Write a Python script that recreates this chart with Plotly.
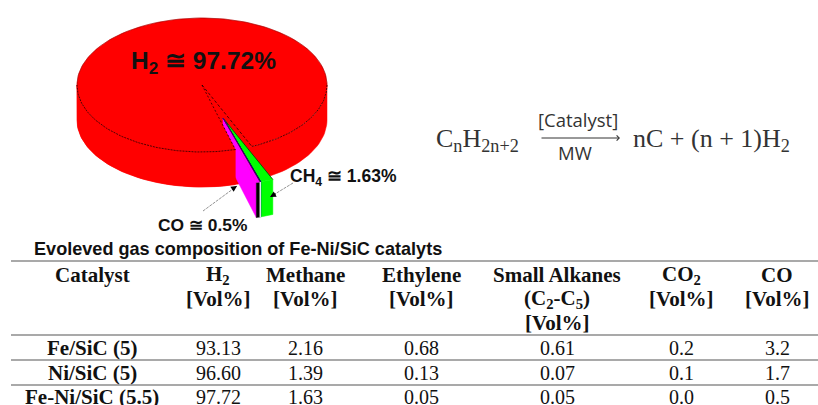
import numpy as np
import plotly.graph_objects as go

# ---- data ----
pie_labels = ["H2", "CH4", "C2H4", "Alkanes", "CO2", "CO"]
pie_values = [97.72, 1.63, 0.05, 0.05, 0.0, 0.5]
pie_colors = ["#ff0000", "#00ff00", "#0000cc", "#0000cc", "#000000", "#ff00ff"]

catalysts = ["Fe/SiC (5)", "Ni/SiC (5)", "Fe-Ni/SiC (5.5)"]
h2 = ["93.13", "96.60", "97.72"]
methane = ["2.16", "1.39", "1.63"]
ethylene = ["0.68", "0.13", "0.05"]
alkanes = ["0.61", "0.07", "0.05"]
co2 = ["0.2", "0.1", "0.0"]
co = ["3.2", "1.7", "0.5"]
headers = [
    ["Catalyst"],
    ["H<sub>2</sub>", "[Vol%]"],
    ["Methane", "[Vol%]"],
    ["Ethylene", "[Vol%]"],
    ["Small Alkanes", "(C<sub>2</sub>-C<sub>5</sub>)", "[Vol%]"],
    ["CO<sub>2</sub>", "[Vol%]"],
    ["CO", "[Vol%]"],
]
columns = [catalysts, h2, methane, ethylene, alkanes, co2, co]
title = "Evoleved gas composition of Fe-Ni/SiC catalyts"

# ---- layout constants ----
W, H = 818, 405
CX, CY, RX, RY, DEPTH = 202, 85, 125, 67, 35
EXPL = (21, 33)
START = 66.5
col_x = [92, 218, 305, 421, 557, 681, 777]
hdr_y = [275, 299, 323]
row_y = [348, 373, 397]
rule_y = [261, 335, 360, 385]

fig = go.Figure()


def rim(a0, a1, dx=0, dy=0, n=80):
    t = np.radians(np.linspace(a0, a1, n))
    return CX + dx + RX * np.cos(t), CY + dy + RY * np.sin(t)


def poly(x, y, fill, line=None, width=0):
    fig.add_trace(go.Scatter(
        x=list(x) + [x[0]], y=list(y) + [y[0]], mode="lines", fill="toself",
        fillcolor=fill, line=dict(color=line or fill, width=width or 0.5),
        hoverinfo="skip", showlegend=False))


def stroke(x, y, color="#000000", width=0.8, dash="solid"):
    fig.add_trace(go.Scatter(x=list(x), y=list(y), mode="lines",
                             line=dict(color=color, width=width, dash=dash),
                             hoverinfo="skip", showlegend=False))


def wall(a0, a1, dx=0, dy=0):
    x, y = rim(a0, a1, dx, dy)
    return np.r_[x, x[::-1]], np.r_[y, y[::-1] + DEPTH]


# slice angles derived from the values
total = sum(pie_values)
sweep = [v / total * 360 for v in pie_values]
angles = {}
a = START
for name, s in zip(pie_labels[1:], sweep[1:]):
    angles[name] = (a, a + s)
    a += s
end = a

# red body
wx, wy = wall(0, 180)
poly(wx, wy, pie_colors[0])
tx, ty = rim(0, 360, n=240)
poly(tx, ty, pie_colors[0])

# exploded wedge: cut face, tops, rim walls
dx, dy = EXPL
ex, ey = rim(end, end, dx, dy, n=1)
apex = (CX + dx, CY + dy)
poly([apex[0], apex[0], ex[0], ex[0]],
     [apex[1], apex[1] + DEPTH, ey[0] + DEPTH, ey[0]], pie_colors[5])
for name, color in zip(pie_labels[1:], pie_colors[1:]):
    a0, a1 = angles[name]
    if a1 - a0 < 0.01:
        continue
    if name == "CO":
        color = "#000000"
    x, y = wall(a0, a1, dx, dy)
    poly(x, y, color)
for name, color in zip(pie_labels[1:], pie_colors[1:]):
    a0, a1 = angles[name]
    if a1 - a0 < 0.01:
        continue
    x, y = rim(a0, a1, dx, dy, n=8)
    poly(np.r_[apex[0], x], np.r_[apex[1], y], color)
    stroke([apex[0], x[0]], [apex[1], y[0]], width=0.6)

# thin light gap between the methane wall and the neighbouring slices
gx, gy = rim(angles["CH4"][1] + 0.3, angles["CH4"][1] + 0.3, dx, dy, n=1)
stroke([gx[0], gx[0]], [gy[0], gy[0] + DEPTH], color="#ffffff", width=1.3)

# red part of the pie in front of the cut face
fx, fy = wall(end, 180)
poly(fx, fy, pie_colors[0])
sx, sy = rim(end, 130, n=40)
poly(np.r_[CX, sx], np.r_[CY, sy], pie_colors[0])

# rim and notch lines
x, y = rim(end, 180)
stroke(x, y, width=0.7, dash="2px,1px")
x, y = rim(0, START)
stroke(x, y, width=0.7, dash="2px,1px")
x, y = rim(START, START, n=1)
stroke([CX, x[0]], [CY, y[0]], width=0.7, dash="3px,2px")
x, y = rim(end, end, n=1)
stroke([CX, x[0]], [CY, y[0]], width=0.7, dash="2px,2px")
x, y = rim(180, 360)
stroke(x, y, color="#660000", width=0.4)

# leader lines
stroke([203, 237], [211, 186], color="#777777", width=0.8, dash="3px,1px")
stroke([293, 270], [183, 197], color="#777777", width=0.8, dash="3px,1px")

annotations = []


def txt(x, y, s, size, family="Liberation Serif", bold=False, anchor="center", color="#111111"):
    annotations.append(dict(
        x=x, y=y, xref="x", yref="y", text=f"<b>{s}</b>" if bold else s, showarrow=False,
        xanchor=anchor, yanchor="middle",
        font=dict(family=family, size=size, color=color)))


def head(x, y, ax, ay):
    annotations.append(dict(x=x, y=y, ax=ax, ay=ay, xref="x", yref="y", axref="x", ayref="y",
                            text="", showarrow=True, arrowhead=2, arrowsize=1,
                            arrowwidth=1.2, arrowcolor="#000000"))


head(237, 186, 231, 190)
head(270, 197, 277, 193)

txt(203, 62, "H<sub>2</sub> ≅ 97.72%", 24.5, "Liberation Sans", True)
txt(343, 177, "CH<sub>4</sub> ≅ 1.63%", 17.5, "Liberation Sans", True)
txt(202, 225, "CO ≅ 0.5%", 17.4, "Liberation Sans", True)

# equation
txt(434, 140, "C<sub>n</sub>H<sub>2n+2</sub>", 26, "Liberation Serif", anchor="left", color="#333333")
txt(631, 140, "nC + (n + 1)H<sub>2</sub>", 26, "Liberation Serif", anchor="left", color="#333333")
txt(578, 119, "[Catalyst]", 18.5, "Open Sans", color="#333333")
txt(575, 152, "MW", 18.5, "Open Sans", color="#333333")
annotations.append(dict(x=620, y=138, ax=540, ay=138, xref="x", yref="y", axref="x", ayref="y",
                        text="", showarrow=True, arrowhead=4, arrowsize=1,
                        arrowwidth=1, arrowcolor="#333333"))

# table
txt(32, 249, title, 18.1, "Liberation Sans", True, anchor="left")
for cx, hdr in zip(col_x, headers):
    for yy, s in zip(hdr_y, hdr):
        txt(cx, yy, s, 21, bold=True)
for i, (cx, col) in enumerate(zip(col_x, columns)):
    for yy, s in zip(row_y, col):
        txt(cx, yy, s, 21 if i == 0 else 20, bold=(i == 0))

shapes = [dict(type="line", xref="x", yref="y", x0=11, x1=W, y0=yy, y1=yy,
               line=dict(color="#8c8c8c", width=1.5)) for yy in rule_y]

fig.update_layout(
    width=W, height=H, margin=dict(l=0, r=0, t=0, b=0),
    paper_bgcolor="white", plot_bgcolor="white", showlegend=False,
    xaxis=dict(range=[0, W], visible=False, fixedrange=True),
    yaxis=dict(range=[H, 0], visible=False, fixedrange=True),
    annotations=annotations, shapes=shapes,
)
fig.write_html("out.html", config=dict(displayModeBar=False),
               post_script="document.body.style.margin='0';")
